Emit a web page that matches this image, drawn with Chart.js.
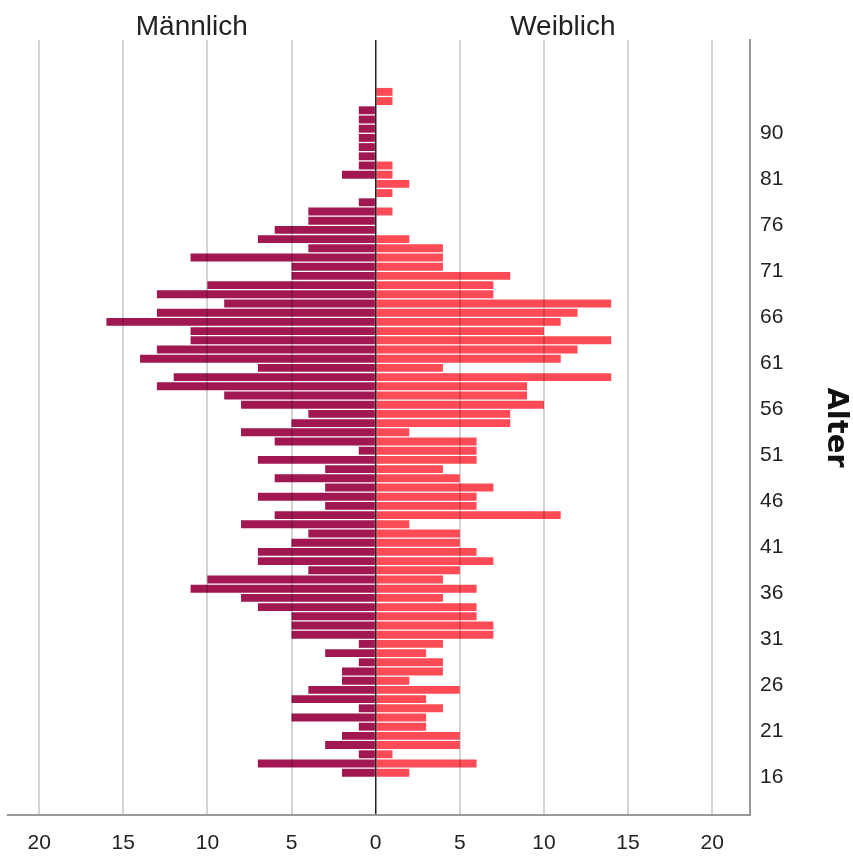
<!DOCTYPE html>
<html>
<head>
<meta charset="utf-8">
<script src="https://cdn.jsdelivr.net/npm/chart.js@4/dist/chart.umd.min.js"></script>
<style>
  html, body { margin: 0; padding: 0; background: #fff; }
</style>
</head>
<body>
<canvas id="pyramide" width="853" height="858"></canvas>
<script>
// Altersgruppen (nur vorhandene Alter, von unten nach oben)
const alter = [16, 17, 18, 19, 20, 21, 22, 23, 24, 25,
    26, 27, 28, 29, 30, 31, 32, 33, 34, 35,
    36, 37, 38, 39, 40, 41, 42, 43, 44, 45,
    46, 47, 48, 49, 50, 51, 52, 53, 54, 55,
    56, 57, 58, 59, 60, 61, 62, 63, 64, 65,
    66, 67, 68, 69, 70, 71, 72, 73, 74, 75,
    76, 77, 78, 79, 80, 81, 82, 83, 85, 88,
    90, 91, 92, 94, 96];

const maenner = [2, 7, 1, 3, 2, 1, 5, 1, 5, 4,
    2, 2, 1, 3, 1, 5, 5, 5, 7, 8,
    11, 10, 4, 7, 7, 5, 4, 8, 6, 3,
    7, 3, 6, 3, 7, 1, 6, 8, 5, 4,
    8, 9, 13, 12, 7, 14, 13, 11, 11, 16,
    13, 9, 13, 10, 5, 5, 11, 4, 7, 6,
    4, 4, 1, 0, 0, 2, 1, 1, 1, 1,
    1, 1, 1, 0, 0];

const frauen = [2, 6, 1, 5, 5, 3, 3, 4, 3, 5,
    2, 4, 4, 3, 4, 7, 7, 6, 6, 4,
    6, 4, 5, 7, 6, 5, 5, 2, 11, 6,
    6, 7, 5, 4, 6, 6, 6, 2, 8, 8,
    10, 9, 9, 14, 4, 11, 12, 14, 10, 11,
    12, 14, 7, 7, 8, 4, 4, 4, 2, 0,
    0, 1, 0, 1, 2, 1, 1, 0, 0, 0,
    0, 0, 0, 1, 1];

const alterTicks = [16, 21, 26, 31, 36, 41, 46, 51, 56, 61, 66, 71, 76, 81, 90];
const xTicks = [-20, -15, -10, -5, 0, 5, 10, 15, 20];

const schrift = '"Liberation Sans", Arial, sans-serif';

// Überschriften "Männlich" / "Weiblich" über den Hälften
const kopfzeilen = {
    id: 'kopfzeilen',
    afterDraw(chart) {
        const ctx = chart.ctx;
        const area = chart.chartArea;
        const null_x = chart.scales.x.getPixelForValue(0);
        ctx.save();
        ctx.font = '28px ' + schrift;
        ctx.fillStyle = '#222';
        ctx.textAlign = 'center';
        ctx.textBaseline = 'alphabetic';
        ctx.fillText('Männlich', (area.left + null_x) / 2, 35);
        ctx.fillText('Weiblich', (null_x + area.right) / 2, 35);
        ctx.restore();
    }
};

new Chart(document.getElementById('pyramide'), {
    type: 'bar',
    data: {
        datasets: [{
            label: 'Männlich',
            data: maenner.map((v, i) => ({ x: -v, y: i })),
            backgroundColor: '#A01751',
            borderWidth: 0
        }, {
            label: 'Weiblich',
            data: frauen.map((v, i) => ({ x: v, y: i })),
            backgroundColor: '#FF4B56',
            borderWidth: 0
        }]
    },
    options: {
        indexAxis: 'y',
        responsive: false,
        animation: false,
        grouped: false,
        categoryPercentage: 1,
        barPercentage: 0.86,
        layout: { padding: { left: 8, top: 40, right: 0, bottom: 0 } },
        plugins: {
            legend: { display: false },
            tooltip: { enabled: false }
        },
        scales: {
            x: {
                type: 'linear',
                min: -21.85,
                max: 22.25,
                afterBuildTicks: s => { s.ticks = xTicks.map(v => ({ value: v })); },
                afterFit: s => { s.height = 43; },
                ticks: {
                    callback: v => Math.abs(v),
                    font: { family: schrift, size: 21 },
                    color: '#222',
                    padding: 16
                },
                grid: {
                    z: 1,
                    drawTicks: false,
                    color: c => c.tick && c.tick.value === 0 ? '#222' : 'rgba(0,0,0,0.17)',
                    lineWidth: c => c.tick && c.tick.value === 0 ? 1.5 : 2
                },
                border: { display: true, color: '#999', width: 2, z: 1 }
            },
            y: {
                type: 'linear',
                position: 'right',
                offset: false,
                min: -4.6,
                max: 79.64,
                afterBuildTicks: s => {
                    s.ticks = alterTicks.map(a => ({ value: alter.indexOf(a) - 0.45 }));
                },
                afterFit: s => { s.width = 103; },
                ticks: {
                    callback: (v, i) => alterTicks[i],
                    font: { family: schrift, size: 21 },
                    color: '#222',
                    padding: 10
                },
                grid: { display: false, drawTicks: false },
                border: { display: true, color: '#999', width: 2 },
                title: {
                    display: true,
                    text: 'Alter',
                    font: { family: '"DejaVu Sans", sans-serif', size: 29, weight: 'bold' },
                    color: '#111',
                    padding: 0
                }
            }
        }
    },
    plugins: [kopfzeilen]
});
</script>
</body>
</html>
